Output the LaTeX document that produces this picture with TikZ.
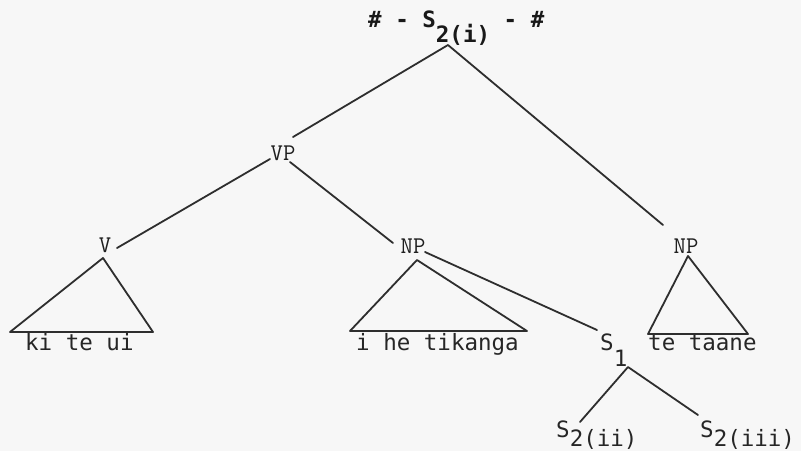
\documentclass[tikz,border=0pt]{standalone}
\usepackage{fontspec}
\newfontfamily\leaffont{DejaVu Sans Mono}
\newcommand\lowsub[2][13pt]{\raisebox{-#1}{#2}}
\begin{document}
\begin{tikzpicture}[x=1pt,y=-1pt,
  leaf/.style={font=\leaffont\fontsize{22.5}{24}\selectfont, text=black!85, inner sep=0pt, anchor=base west},
  toplabel/.style={font=\leaffont\bfseries\fontsize{22.5}{24}\selectfont, text=black!90, inner sep=0pt, anchor=base west},
  cat/.style={font=\ttfamily\fontsize{24}{26}\selectfont, text=black!88, inner sep=0pt},
  edge/.style={draw=black!82, line width=1.8pt, line cap=round, line join=round}]
\fill[black!3] (0,0) rectangle (801,451);
\useasboundingbox (0,0) rectangle (801,451);
% labels
\node[toplabel] (top) at (368,27) {\#~-~S\lowsub[15pt]{2(i)}~-~\#};
\node[cat] (vp) at (283,153) {VP};
\node[cat] (v) at (105,245) {V};
\node[cat] (npm) at (413,246) {NP};
\node[cat] (npr) at (686,246) {NP};
\node[leaf] (kiteui) at (25,350) {ki te ui};
\node[leaf] (ihe) at (356,350) {i he tikanga};
\node[leaf] (tetaane) at (648,350) {te taane};
\node[leaf] (s1) at (600,350) {S\lowsub[16pt]{1}};
\node[leaf] (s2ii) at (556,437) {S\lowsub[9pt]{2(ii)}};
\node[leaf] (s2iii) at (700,437) {S\lowsub[9pt]{2(iii)}};
% connector end points
\coordinate (rootapex) at (448,45);
\coordinate (vpup) at (293,137);
\coordinate (nprup) at (663,225);
\coordinate (vpl) at (270,159);
\coordinate (vend) at (117,248);
\coordinate (vpr) at (290,162);
\coordinate (npmend) at (393,243);
\coordinate (vapex) at (103,258);
\coordinate (vbl) at (10,332);
\coordinate (vbr) at (153,332);
\coordinate (npmapex) at (417,260);
\coordinate (npmbl) at (350,331);
\coordinate (npmbr) at (527,331);
\coordinate (npmr) at (425,252);
\coordinate (s1end) at (597,330);
\coordinate (nprapex) at (688,256);
\coordinate (nprbl) at (648,334);
\coordinate (nprbr) at (748,334);
\coordinate (s1apex) at (628,367);
\coordinate (s2iiend) at (580,422);
\coordinate (s2iiiend) at (698,415);
% edges
\draw[edge] (vpup) -- (rootapex) -- (nprup);
\draw[edge] (vend) -- (vpl);
\draw[edge] (vpr) -- (npmend);
\draw[edge] (vbl) -- (vapex) -- (vbr) -- cycle;
\draw[edge] (npmbl) -- (npmapex) -- (npmbr) -- cycle;
\draw[edge] (npmr) -- (s1end);
\draw[edge] (nprbl) -- (nprapex) -- (nprbr) -- cycle;
\draw[edge] (s2iiend) -- (s1apex) -- (s2iiiend);
\end{tikzpicture}
\end{document}
